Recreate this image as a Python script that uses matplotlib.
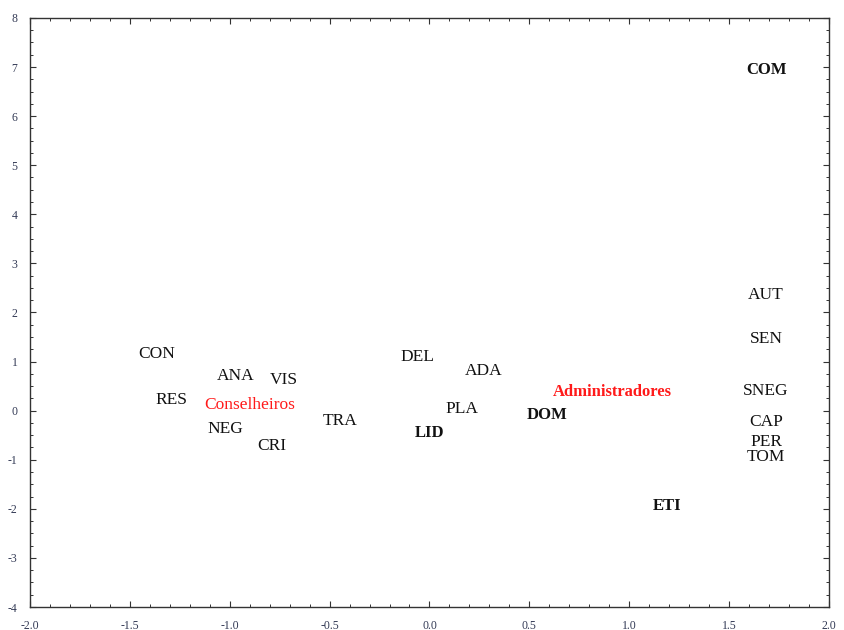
import matplotlib.pyplot as plt
from matplotlib.ticker import MultipleLocator

# coordinates of the categories on the two dimensions
labels = ["COM", "AUT", "SEN", "SNEG", "CAP", "PER", "TOM", "ETI", "DOM",
          "PLA", "LID", "ADA", "DEL", "TRA", "CRI", "VIS", "ANA", "NEG",
          "RES", "CON"]
dim1 = [1.685, 1.685, 1.685, 1.685, 1.685, 1.685, 1.685, 1.19, 0.59,
        0.16, 0.0, 0.27, -0.06, -0.45, -0.79, -0.73, -0.97, -1.02,
        -1.29, -1.365]
dim2 = [6.94, 2.35, 1.45, 0.41, -0.24, -0.63, -0.94, -1.94, -0.08,
        0.04, -0.45, 0.80, 1.10, -0.22, -0.71, 0.63, 0.71, -0.37,
        0.22, 1.16]
bold = ["COM", "ETI", "DOM", "LID"]

# the two groups
groups = ["Administradores", "Conselheiros"]
grp_dim1 = [0.915, -0.90]
grp_dim2 = [0.39, 0.12]
grp_bold = [True, False]

plt.rcParams['font.family'] = ['Liberation Serif', 'DejaVu Serif']

fig = plt.figure(figsize=(8.44, 6.30), dpi=100)
ax = fig.add_axes([0.0355, 0.0365, 0.9467, 0.935])

for name, x, y in zip(labels, dim1, dim2):
    b = name in bold
    ax.text(x, y, name, ha='center', va='center',
            fontsize=12 if b else 12.5,
            fontweight='bold' if b else 'normal', color='#111111')

for name, x, y, b in zip(groups, grp_dim1, grp_dim2, grp_bold):
    ax.text(x, y, name, ha='center', va='center', fontsize=12 if b else 12.5,
            fontweight='bold' if b else 'normal', color='#ff1a1a')

ax.set_xlim(-2.0, 2.0)
ax.set_ylim(-4, 8)
ax.xaxis.set_major_locator(MultipleLocator(0.5))
ax.xaxis.set_minor_locator(MultipleLocator(0.1))
ax.yaxis.set_major_locator(MultipleLocator(1))
ax.yaxis.set_minor_locator(MultipleLocator(0.25))
ax.xaxis.set_major_formatter(lambda v, p: f"{v:.1f}")
ax.yaxis.set_major_formatter(lambda v, p: f"{v:.0f}")

ax.tick_params(which='both', direction='in', top=True, right=True,
               colors='#333333', labelsize=8.5, labelcolor='#333a55')
ax.tick_params(which='major', length=4, width=0.8)
ax.tick_params(which='minor', length=2, width=0.7)
ax.tick_params(axis='x', pad=9)
ax.tick_params(axis='y', pad=9)
for s in ax.spines.values():
    s.set_color('#333333')
    s.set_linewidth(1.0)

fig.savefig('out.png', dpi=100)
